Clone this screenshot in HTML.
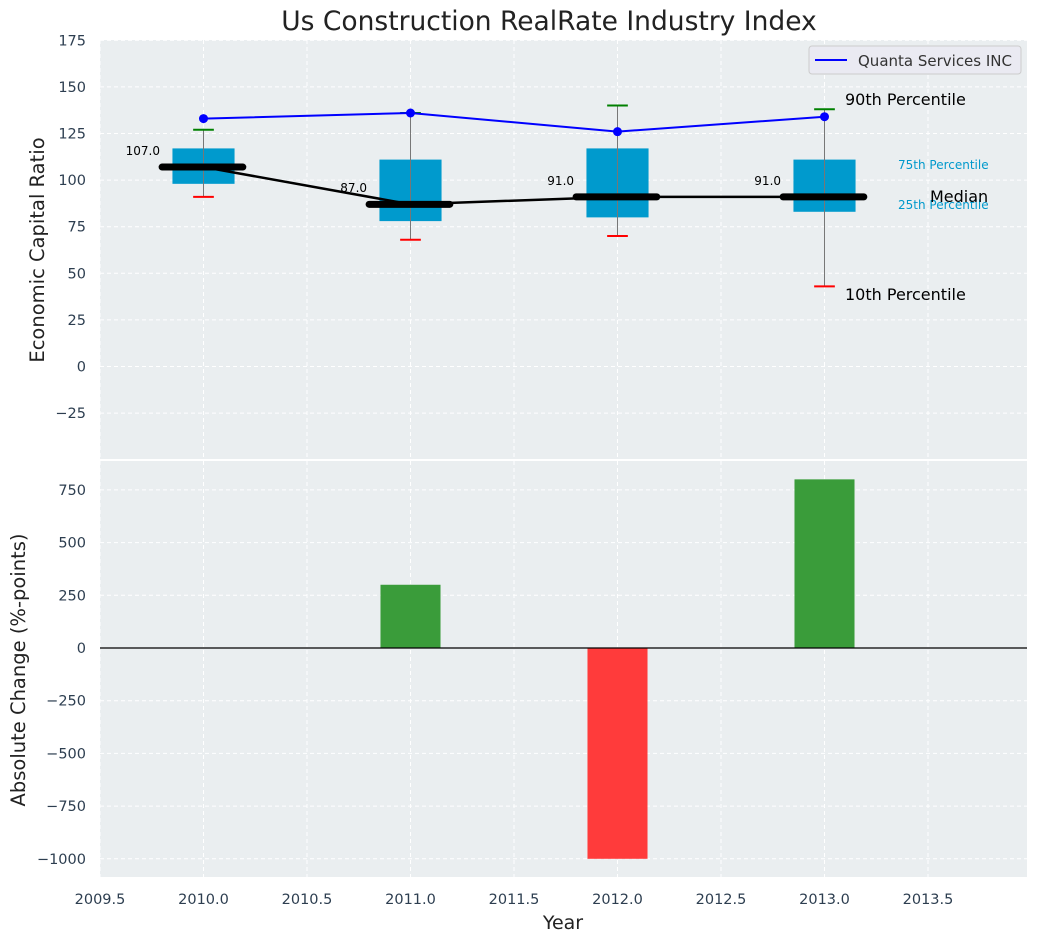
<!DOCTYPE html>
<html><head><meta charset="utf-8"><style>
body{margin:0;background:#fff;font-family:"Liberation Sans","DejaVu Sans",sans-serif}
svg text{font-family:"DejaVu Sans","Liberation Sans",sans-serif}
</style></head><body>
<svg id="c" width="1039" height="942">
<text x="549" y="30" font-size="26.5" text-anchor="middle" fill="#222">Us Construction RealRate Industry Index</text>
<rect x="100" y="40" width="927" height="419" fill="#eaeef0"/>
<rect x="100" y="461" width="927" height="416" fill="#eaeef0"/>
<g id="g"></g>
<text transform="translate(44,250) rotate(-90)" font-size="19.5" text-anchor="middle" fill="#222">Economic Capital Ratio</text>
<text transform="translate(25,670) rotate(-90)" font-size="19.5" text-anchor="middle" fill="#222">Absolute Change (%-points)</text>
<text x="563" y="929" font-size="19" text-anchor="middle" fill="#222">Year</text>
<g>
<rect x="809" y="46" width="212" height="28" rx="3" fill="#eaeaf2" stroke="#ccc"/>
<line x1="815" y1="60" x2="847" y2="60" stroke="#0000ff" stroke-width="2"/>
<text x="858" y="66" font-size="15" fill="#333">Quanta Services INC</text>
</g>
<text x="845" y="105" font-size="16" fill="#000">90th Percentile</text>
<text x="845" y="300" font-size="16" fill="#000">10th Percentile</text>
<text x="898" y="169" font-size="12" fill="#0099cc">75th Percentile</text>
<text x="898" y="209" font-size="12" fill="#0099cc">25th Percentile</text>
<text x="930" y="202" font-size="16" fill="#000">Median</text>
</svg>
<script>
const years=[2010,2011,2012,2013];
const p10=[91,68,70,43];
const p25=[98,78,80,83];
const med=[107,87,91,91];
const p75=[117,111,117,111];
const p90=[127,136,140,138];
const company=[133,136,126,134];
const change=[0,300,-1000,800];
const xTicks=[2009.5,2010,2010.5,2011,2011.5,2012,2012.5,2013,2013.5];
const topTicks=[-25,0,25,50,75,100,125,150,175];
const botTicks=[-1000,-750,-500,-250,0,250,500,750];
const X=v=>100+(v-2009.5)*207;
const YT=v=>366.5-v*1.864;
const YB=v=>648-v*0.2108;
const g=document.getElementById('g');
const NS='http://www.w3.org/2000/svg';
function mk(t,a,name){const e=document.createElementNS(NS,t);for(const k in a)e.setAttribute(k,a[k]);


g.appendChild(e);return e;}
function fmt(v){return v<0?'\u2212'+Math.abs(v):''+v;}
xTicks.forEach(v=>{
 mk('line',{x1:X(v),x2:X(v),y1:40,y2:459,stroke:'#fff','stroke-dasharray':'4,3'},'x-gridline');
 mk('line',{x1:X(v),x2:X(v),y1:461,y2:877,stroke:'#fff','stroke-dasharray':'4,3'},'x-gridline');
 const t=mk('text',{x:X(v),y:904,'font-size':14.5,fill:'#2d3e50','text-anchor':'middle'},'x-tick-label');t.textContent=v.toFixed(1);
});
topTicks.forEach(v=>{
 mk('line',{x1:100,x2:1027,y1:YT(v),y2:YT(v),stroke:'#fff','stroke-dasharray':'4,3'},'top-y-gridline');
 const t=mk('text',{x:86,y:YT(v)+5,'font-size':14.5,fill:'#2d3e50','text-anchor':'end'},'top-y-tick-label');t.textContent=fmt(v);
});
botTicks.forEach(v=>{
 mk('line',{x1:100,x2:1027,y1:YB(v),y2:YB(v),stroke:'#fff','stroke-dasharray':'4,3'},'bottom-y-gridline');
 const t=mk('text',{x:86,y:YB(v)+5,'font-size':14.5,fill:'#2d3e50','text-anchor':'end'},'bottom-y-tick-label');t.textContent=fmt(v);
});
years.forEach((y,i)=>{
 mk('rect',{x:X(y-0.15),y:YT(p75[i]),width:X(y+0.15)-X(y-0.15),height:YT(p25[i])-YT(p75[i]),fill:'#009acd'},'iqr-box');
 mk('line',{x1:X(y),x2:X(y),y1:YT(p10[i]),y2:YT(p90[i]),stroke:'#777','stroke-width':1},'whisker');
 mk('line',{x1:X(y-0.05),x2:X(y+0.05),y1:YT(p90[i]),y2:YT(p90[i]),stroke:'green','stroke-width':2},'p90-cap');
 mk('line',{x1:X(y-0.05),x2:X(y+0.05),y1:YT(p10[i]),y2:YT(p10[i]),stroke:'red','stroke-width':2},'p10-cap');
});
mk('polyline',{points:years.map((y,i)=>X(y)+','+YT(med[i])).join(' '),fill:'none',stroke:'#000','stroke-width':2.5},'median-line');
years.forEach((y,i)=>{
 mk('line',{x1:X(y-0.2),x2:X(y+0.19),y1:YT(med[i]),y2:YT(med[i]),stroke:'#000','stroke-width':7,'stroke-linecap':'round'},'median-bar');
 const t=mk('text',{x:X(y-0.21),y:YT(med[i]+6.5),'font-size':12,fill:'#000','text-anchor':'end'},'median-value-label');t.textContent=med[i].toFixed(1);
});
mk('polyline',{points:years.map((y,i)=>X(y)+','+YT(company[i])).join(' '),fill:'none',stroke:'#0000ff','stroke-width':2},'company-line');
years.forEach((y,i)=>mk('circle',{cx:X(y),cy:YT(company[i]),r:4.5,fill:'#0000ff'},'company-point'));
years.forEach((y,i)=>{
 if(!change[i])return;
 const a=YB(Math.max(0,change[i])),b=YB(Math.min(0,change[i]));
 mk('rect',{x:X(y-0.145),y:a,width:X(y+0.145)-X(y-0.145),height:b-a,fill:change[i]>0?'#3a9c3a':'#ff3b3b'},'change-bar');
});
mk('line',{x1:100,x2:1027,y1:YB(0),y2:YB(0),stroke:'#000','stroke-width':1.2},'zero-line');
</script>
</body></html>
